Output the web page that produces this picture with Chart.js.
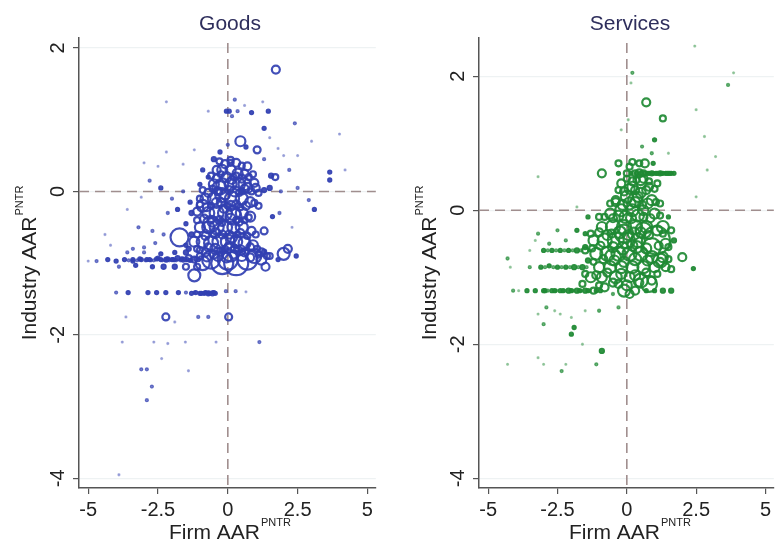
<!DOCTYPE html>
<html>
<head>
<meta charset="utf-8">
<script src="https://cdn.jsdelivr.net/npm/chart.js@4/dist/chart.umd.min.js"></script>
<style>
  html, body { margin: 0; padding: 0; background: #fff; overflow: hidden; width: 775px; height: 548px; }
  canvas { position: absolute; top: 0; }
  #goods { left: 0; }
  #services { left: 400px; }
</style>
</head>
<body>
<canvas id="goods" width="390" height="548"></canvas>
<canvas id="services" width="390" height="548"></canvas>
<script>
// tick values
const xTicks = [-5, -2.5, 0, 2.5, 5];
const yTicks = [-4, -2, 0, 2];

// Goods panel: firm AAR (x), industry AAR (y), marker radius (weight)
const goodsX = [
  1.72, -0.7, -0.05, 0.05, 0.35, 0.85, 1.45, 0.25, -2.2, 1.25, 1.3, 0.15, 0.6,
  0.45, 1.05, -0.28, 0.0, 0.65, 1.8, 2.4, -1.2, 2.2, 3.65, 3.65, 3.1, 2.9, 4.2, 3.0, 4.0, 2.5,
  1.7, 1.55, 1.3, 1.5, 2.0, 1.9, 2.5, 1.85, 2.3, 1.6, 1.5,
  -3.0, -2.5, -2.2, -1.6, -2.8, -2.4, -2.0, -3.1, -3.6, -2.15, -1.8, -3.2, -2.7, -2.3, -4.2, -3.4, -3.0, -2.6, -4.4, -1.5, -1.3, -1.0,
  -5.0, -4.7, -4.3, -4.0, -3.7, -3.4, -3.1, -2.8, -2.5, -2.2, -2.0, -1.8, -1.6, -1.4, -1.2,
  -3.9, -3.3, -2.7, -2.3, -1.9, -1.5, -1.1, -3.6, -3.0, -2.4, -1.9, -1.5,
  -3.55, -3.25, -2.95, -2.65, -2.35, -2.1, -1.9, -1.7, -1.5, -1.3,
  1.2, 1.5, 1.8, 2.0, 2.15, 2.45, 1.35, 1.2,
  -1.73, -1.2, -0.9, -1.1, 1.3, 1.1, 0.95, 0.7, -0.4, 0.1,
  -0.6, -0.2, 0.3, 0.7, 0.95, -0.9, 0.1,
  -0.2, 0.1, 0.35, 0.6,
  -0.5, -0.2, 0.1, 0.4, 0.7, 1.0,
  -0.8, -0.5, -0.2, 0.15, 0.5, 0.8,
  -0.7, -0.4, -0.1, 0.2, 0.5, 0.8,
  -1.0, -0.7, -0.4, -0.1, 0.2, 0.5, 0.85,
  -1.2, -0.9, -0.6, -0.3, 0.0, 0.3, 0.6, 0.9,
  -0.3, 0.0, 0.3, -0.5, 0.2, -0.1, 0.5, -0.6, 0.05, -0.25, 0.35, -0.8, 0.6,
  -1.3, -1.5, -1.1, -1.35, -1.6, -1.0, -0.9, -0.5, -0.7,
  -4.0, -3.57, -2.86, -2.55, -2.22, -1.77, -1.5, -1.2, -1.0, -0.85, -0.7, -0.55, -0.07, 0.28, 0.65,
  -3.65, -2.22, -1.06, -0.7, 0.03, -1.9,
  -3.78, -2.65, -2.15, -1.52, -0.42, 1.13, -2.37, -3.1, -2.9, -1.41, -2.72, -2.9, -3.9,
  // dense core
  -0.3, -0.1, 0.1, 0.3, 0.5,
  -0.6, -0.4, -0.25, -0.05, 0.15, 0.3, 0.5, 0.75, 0.9,
  -0.9, -0.7, -0.55, -0.35, -0.1, 0.05, 0.25, 0.4, 0.6, 0.85, 1.1, 1.3,
  -1.0, -0.75, -0.6, -0.4, -0.15, 0.1, 0.3, 0.45, 0.65, 0.95,
  -1.1, -0.85, -0.55, -0.3, -0.2, 0.1, 0.4, 0.6, 0.75,
  -1.1, -0.8, -0.45, -0.2, 0.15, 0.45, 0.7, 1.0,
  -1.4, -1.0, -0.7, -0.45, -0.25, 0.05, 0.25, 0.45, 0.8, 1.05, 1.3,
  -1.0, -0.75, -0.5, -0.35, -0.05, 0.2, 0.5, 0.8, 1.1, 1.4,
  // streak fill and large markers
  -3.4, -3.15, -2.9, -2.75, -2.55, -2.4, -2.25, -2.15, -1.95, -1.85, -1.65, -1.45, -1.35, -1.15, -1.05,
  -1.3, -1.15, -0.95, -0.8, -0.65, -0.5, -0.45,
  0.2, -0.3, 0.5, -0.6, 0.6, 0.0
];
const goodsY = [
  1.70, 1.12, 1.12, 1.12, 1.12, 1.10, 1.12, 1.28, 1.25, 1.25, 0.88, 1.05, 1.20,
  0.70, 0.58, 0.55, 0.65, 0.62, 0.60, 0.95, 0.58, 0.30, 0.27, 0.16, -0.25, -0.12, 0.30, 0.70, 0.80, 0.50,
  0.20, 0.22, 0.45, 0.75, 0.50, 0.00, 0.05, -0.30, -0.50, -0.35, 0.05,
  0.40, 0.35, 0.55, 0.38, 0.15, 0.05, -0.10, -0.08, -0.25, -0.30, -0.25, -0.50, -0.55, -0.60, -0.75, -0.80, -0.78, -0.72, -0.60, -0.45, -0.30, -0.10,
  -0.97, -0.97, -0.95, -0.97, -0.95, -0.97, -0.95, -0.95, -0.93, -0.95, -0.95, -0.93, -0.95, -0.93, -0.95,
  -1.05, -1.03, -1.05, -1.05, -1.05, -1.05, -1.05, -0.85, -0.85, -0.87, -0.85, -0.85,
  -0.96, -0.96, -0.96, -0.96, -0.96, -0.96, -0.96, -0.96, -0.96, -0.96,
  -0.95, -0.90, -0.95, -0.87, -0.80, -0.90, -1.05, -0.85,
  -0.64, -1.17, -0.20, -0.28, -0.55, -0.20, 0.12, 0.35, 0.30, 0.40,
  -0.95, -1.00, -1.00, -0.95, -0.90, -1.00, -0.85,
  0.30, 0.30, 0.25, 0.25,
  0.10, 0.10, 0.10, 0.10, 0.05, 0.05,
  -0.10, -0.10, -0.05, -0.10, -0.10, -0.15,
  -0.30, -0.30, -0.30, -0.30, -0.30, -0.35,
  -0.50, -0.50, -0.50, -0.50, -0.50, -0.50, -0.55,
  -0.70, -0.70, -0.72, -0.70, -0.70, -0.70, -0.72, -0.75,
  0.00, -0.20, -0.40, -0.60, 0.20, -0.80, 0.00, -0.40, -0.60, -0.15, -0.60, -0.85, -0.85,
  -0.60, -0.75, -0.80, -0.15, 0.00, 0.10, 0.30, 0.45, 0.20,
  -1.41, -1.41, -1.41, -1.41, -1.41, -1.41, -1.41, -1.41, -1.42, -1.42, -1.42, -1.42, -1.39, -1.39, -1.40,
  -1.75, -1.75, -1.75, -1.75, -1.75, -1.82,
  -2.10, -2.10, -2.12, -2.10, -2.10, -2.10, -2.33, -2.48, -2.48, -2.50, -2.72, -2.91, -3.95,
  // dense core
  0.42, 0.38, 0.44, 0.40, 0.36,
  0.22, 0.18, 0.24, 0.20, 0.16, 0.22, 0.18, 0.20, 0.24,
  0.02, -0.02, 0.04, 0.00, -0.04, 0.02, 0.00, -0.02, 0.04, 0.00, -0.02, 0.02,
  -0.18, -0.22, -0.20, -0.16, -0.24, -0.20, -0.18, -0.22, -0.20, -0.16,
  -0.40, -0.38, -0.42, -0.40, -0.44, -0.38, -0.42, -0.40, -0.36,
  -0.60, -0.62, -0.58, -0.60, -0.64, -0.58, -0.62, -0.60,
  -0.80, -0.82, -0.78, -0.80, -0.84, -0.78, -0.80, -0.82, -0.78, -0.80, -0.84,
  -0.90, -0.92, -0.88, -0.90, -0.92, -0.88, -0.90, -0.92, -0.88, -0.90,
  // streak fill and large markers
  -0.95, -0.94, -0.95, -0.96, -0.94, -0.95, -0.96, -0.94, -0.95, -0.96, -0.94, -0.95, -0.96, -0.94, -0.95,
  -1.42, -1.41, -1.42, -1.41, -1.42, -1.41, -1.42,
  -0.35, 0.05, -0.70, -0.45, 0.10, -0.95
];
const goodsR = [
  4, 1, 2, 2, 1.5, 2, 2, 1.5, 1, 1, 2, 1.5, 1,
  5, 3.5, 2, 1.5, 2, 1, 1.5, 1, 1.5, 2, 2, 2, 1.5, 1, 1, 1, 1,
  3, 2.5, 1.5, 1, 1, 1.5, 1.5, 1.5, 1, 2, 2.5,
  1, 1, 1, 1, 1.5, 2, 1.5, 1, 1, 1.5, 2, 1.5, 1.5, 1.5, 1, 1.5, 1.5, 1.5, 1, 2, 2.5, 3,
  1, 1.5, 2, 2, 2, 2, 2, 2, 2, 2.5, 2, 2.5, 2.5, 3, 3,
  1.5, 2, 2, 2.5, 2.5, 3, 3, 1.5, 1.5, 2, 2, 2.5,
  1.5, 1.5, 1.5, 1.5, 1.5, 1.5, 1.5, 1.5, 1.5, 1.5,
  5, 3, 2, 6, 4, 2, 4, 4,
  9, 6, 6, 4, 3.5, 3, 4, 4, 4, 3,
  9, 11, 12, 10, 7, 7, 9,
  5, 5, 5, 4,
  5, 6, 6, 6, 5, 4,
  5, 6, 7, 7, 6, 5,
  6, 7, 7, 7, 6, 5,
  5, 6, 7, 7, 6, 6, 4,
  5, 6, 7, 7, 7, 6, 6, 5,
  3, 3, 3, 3, 3, 3, 3, 3, 4, 4, 3, 4, 4,
  2.5, 2, 3, 2, 1.5, 2, 2, 2.5, 2,
  1.5, 2, 2, 2, 2, 2, 1.5, 1.5, 2, 2, 2.5, 2.5, 1.5, 1.5, 1,
  1, 3.5, 1.5, 1.5, 3.5, 1,
  1, 1, 1, 1, 1, 1.5, 1, 1.5, 1.5, 1, 1.5, 1.5, 1,
  // dense core
  3, 4, 3, 4, 3,
  3, 4, 3, 5, 4, 3, 4, 3, 3,
  3, 4, 3, 4, 5, 4, 5, 3, 4, 3, 3, 2.5,
  3, 4, 3, 5, 4, 5, 4, 3, 4, 3,
  3, 4, 5, 4, 3, 5, 4, 3, 3,
  3, 4, 5, 4, 5, 4, 3, 3,
  2.5, 3, 4, 5, 4, 5, 4, 5, 4, 3, 2.5,
  3, 4, 4, 5, 5, 4, 5, 4, 3, 3,
  // streak fill and large markers
  2, 2, 2, 1.5, 2, 2, 1.5, 2, 2, 1.5, 2, 2, 2, 2, 2,
  2, 2, 2, 2, 2, 2, 2,
  8, 7, 8, 8, 6, 10
];

// Services panel
const servX = [
  0.2, 0.15, 3.85, 3.65, 2.45, 0.7, 1.3, 2.5, 2.8, 0.05, 1.0, 0.55, 1.5, 0.9, -3.2, -0.2, 2.9, 3.2, 2.5,
  0.0, 0.3, 0.6, 0.9, 1.2, 1.45, 1.7, -0.3, 0.45, 0.1, 0.15, 0.75, 1.05, 1.3, 1.55,
  -0.9, -0.3, 0.2, 0.65, 0.45, 0.95, 0.5, 0.2, -0.2, 0.8, 1.1, 0.0, 0.4, 0.9, -0.4, 1.2,
  -0.6, -0.2, 0.2, 0.6, 1.0, -1.0,
  -0.9, -0.5, -0.1, 0.3, 0.7, 1.1,
  -1.2, -0.8, -0.4, 0.0, 0.4, 1.05, 1.4,
  -1.1, -0.7, -0.3, 0.1, 0.5, 0.9, 1.3,
  -1.0, -0.6, -0.2, 0.2, 0.6, 1.0, 1.4, 1.6,
  -1.3, -0.9, -0.4, 0.1, 0.5, 0.9,
  -0.8, -0.1, 0.1, 0.3,
  -4.1, -3.6, -3.0, -2.7, -2.4, -2.1, -1.8, -1.5, -1.2, 0.7, 1.0, 1.3, 1.6,
  -2.85, -2.55, -2.25, -1.95, -1.65, -1.35,
  -4.2, -3.5, -3.1, -2.8, -2.5, -2.2, -1.9, -1.6, 2.0, 2.4,
  -4.3, -3.5, -3.0, -2.7, -2.4, -2.1, -1.8, -1.5,
  -3.2, -2.5, -1.8, -1.5, -2.2, -1.4, -1.8, -2.8, -3.3,
  1.6, 1.5, 1.7,
  -3.2, -2.9, -2.6, -3.0, -2.4, -2.0, -0.3, -0.5, -1.9, -2.0, -0.9, -2.35, -1.1, -3.2, -4.3, -3.0, -2.2, -1.6, -1.5, -1.0, -3.9,
  // dense core
  0.0, 0.2, 0.35, 0.6, 0.8,
  -0.3, -0.1, 0.1, 0.3, 0.5, 0.7, 1.0,
  -0.6, -0.4, -0.15, 0.1, 0.3, 0.55, 0.75, 1.05,
  -0.8, -0.5, -0.3, -0.05, 0.15, 0.4, 0.6, 0.85, 1.2,
  -1.3, -1.0, -0.7, -0.55, -0.25, 0.05, 0.25, 0.5, 0.8, 1.3,
  -1.5, -1.25, -0.95, -0.5, -0.15, 0.2, 0.35, 0.7, 1.15, 1.5,
  -1.4, -1.2, -0.85, -0.45, -0.1, 0.3, 0.75, 1.2, 1.5,
  -1.5, -1.1, -0.7, -0.2, 0.3, 0.7, 1.1,
  -1.6, -1.0, -0.5, -0.3, 0.0, 0.45,
  // streak fill and large markers
  0.35, 0.5, 0.65, 0.8, 0.95, 1.1, 1.25, 1.4, 1.5, 1.6,
  -3.3, -2.95, -2.6, -2.3, -2.0, -1.7, -1.4, -1.1, -0.95,
  -2.85, -2.55, -2.25, -1.95, -1.65, -1.35,
  -2.95, -2.65, -2.35, -2.05, -1.75, -1.45,
  0.9, 1.2, 0.6, 1.3, 0.8, -0.5, -0.1, 0.3
];
const servY = [
  2.05, 1.90, 2.05, 1.87, 2.45, 1.61, 1.37, 1.50, 1.10, 1.35, 1.05, 0.95, 0.85, 0.85, 0.50, 1.20, 0.60, 0.80, 0.20,
  0.55, 0.55, 0.55, 0.55, 0.55, 0.55, 0.55, 0.55, 0.55, 0.65, 0.55, 0.55, 0.55, 0.55, 0.55,
  0.55, 0.70, 0.72, 0.70, 0.70, 0.70, 0.45, 0.35, 0.40, 0.35, 0.40, 0.20, 0.20, 0.15, 0.15, 0.10,
  -0.05, 0.00, 0.00, 0.00, -0.05, -0.10,
  -0.25, -0.25, -0.25, -0.25, -0.25, -0.30,
  -0.45, -0.45, -0.45, -0.45, -0.45, -0.45, -0.50,
  -0.65, -0.65, -0.65, -0.65, -0.65, -0.70, -0.70,
  -0.85, -0.85, -0.85, -0.85, -0.85, -0.85, -0.85, -0.88,
  -1.00, -1.00, -1.00, -1.00, -1.05, -1.05,
  -1.15, -1.20, -1.25, -1.20,
  -1.20, -1.20, -1.20, -1.20, -1.20, -1.20, -1.20, -1.20, -1.20, -1.20, -1.20, -1.20, -1.20,
  -1.20, -1.20, -1.20, -1.20, -1.20, -1.20,
  -0.85, -0.85, -0.85, -0.83, -0.85, -0.85, -0.85, -0.85, -0.70, -0.87,
  -0.72, -0.60, -0.60, -0.60, -0.60, -0.60, -0.60, -0.60,
  -0.35, -0.30, -0.30, -0.35, -0.45, -0.10, 0.05, -0.50, -0.45,
  -0.30, -0.10, -0.45,
  -1.55, -1.45, -1.50, -1.70, -1.55, -1.60, -1.45, -1.25, -1.75, -1.85, -2.10, -2.40, -2.30, -2.20, -2.30, -2.30, -2.30, -2.00, -1.50, -1.50, -1.20,
  // dense core
  0.47, 0.43, 0.45, 0.47, 0.43,
  0.30, 0.28, 0.32, 0.30, 0.26, 0.30, 0.32,
  0.10, 0.12, 0.08, 0.10, 0.12, 0.08, 0.10, 0.12,
  -0.10, -0.12, -0.08, -0.10, -0.12, -0.08, -0.10, -0.12, -0.08,
  -0.35, -0.33, -0.37, -0.35, -0.33, -0.37, -0.35, -0.33, -0.37, -0.35,
  -0.55, -0.57, -0.53, -0.55, -0.57, -0.53, -0.55, -0.57, -0.53, -0.55,
  -0.75, -0.77, -0.73, -0.75, -0.77, -0.73, -0.75, -0.77, -0.73,
  -0.95, -0.97, -0.93, -0.95, -0.97, -0.93, -0.95,
  -1.10, -1.12, -1.08, -1.10, -1.12, -1.08,
  // streak fill and large markers
  0.55, 0.55, 0.55, 0.55, 0.55, 0.55, 0.55, 0.55, 0.55, 0.55,
  -1.20, -1.20, -1.20, -1.20, -1.20, -1.20, -1.20, -1.20, -1.20,
  -0.60, -0.60, -0.60, -0.60, -0.60, -0.60,
  -0.85, -0.85, -0.85, -0.85, -0.85, -0.85,
  -0.55, -0.75, -0.30, -0.25, -1.10, -0.70, -0.35, 0.15
];
const servR = [
  1.5, 1, 1, 1.5, 1, 4, 3, 1, 1, 1, 2, 1.5, 1, 1.5, 1, 1, 1, 1, 1,
  3, 3, 3, 2.5, 2.5, 2, 2, 2, 4, 3, 2, 2, 2, 2, 2,
  4, 3, 3, 4, 3, 2, 5, 5, 4, 4, 3, 6, 5, 5, 4, 3,
  5, 6, 6, 5, 5, 3,
  5, 7, 7, 7, 6, 5,
  5, 7, 8, 8, 7, 14, 5,
  6, 7, 7, 7, 7, 6, 5,
  5, 6, 6, 6, 6, 5, 4, 3,
  5, 5, 6, 5, 7, 4,
  4, 6, 4, 4,
  1.5, 2, 2, 2, 2, 2.5, 2.5, 2.5, 3, 2, 2, 2.5, 2.5,
  1.5, 1.5, 1.5, 1.5, 1.5, 1.5,
  1, 1.5, 2, 2, 2, 2, 2.5, 2.5, 4, 2,
  1.5, 1, 2, 2, 2, 2, 2.5, 3,
  1.5, 1.5, 2, 2, 1.5, 2, 1, 1.5, 1,
  3, 2, 2.5,
  1, 1.5, 1, 1.5, 1, 1, 1.5, 1.5, 2, 2, 2.5, 1.5, 1.5, 1, 1, 1, 1, 1, 1, 1.5, 1,
  // dense core
  3, 4, 3, 4, 3,
  3, 4, 5, 4, 5, 4, 3,
  3, 4, 5, 6, 5, 4, 5, 3,
  3, 4, 5, 6, 5, 6, 4, 4, 3,
  3, 4, 5, 4, 6, 5, 6, 5, 4, 3,
  2.5, 3, 4, 5, 6, 5, 6, 5, 4, 3,
  2.5, 3, 4, 5, 5, 6, 5, 4, 3,
  3, 4, 4, 5, 5, 4, 3,
  3, 3, 4, 4, 5, 4,
  // streak fill and large markers
  2, 2, 2, 2, 2, 2, 2, 2, 2, 2,
  2, 2, 2, 2, 2, 2, 2, 2, 2,
  1.5, 1.5, 1.5, 1.5, 1.5, 1.5,
  1.5, 1.5, 1.5, 1.5, 1.5, 1.5,
  9, 7, 8, 6, 8, 8, 9, 7
];

const FONT = "'Liberation Sans', Arial, sans-serif";

// small helper: main text + superscript, centred on (cx, cy)
function drawSup(ctx, main, sup, cx, cy, angle) {
  ctx.save();
  ctx.translate(cx, cy);
  ctx.rotate(angle);
  ctx.fillStyle = "#222";
  ctx.textBaseline = "middle";
  ctx.textAlign = "left";
  ctx.font = "21px " + FONT;
  const wm = ctx.measureText(main).width;
  ctx.font = "11px " + FONT;
  const ws = ctx.measureText(sup).width;
  const x0 = -(wm + ws + 1) / 2;
  ctx.font = "21px " + FONT;
  ctx.fillText(main, x0, 0);
  ctx.font = "11px " + FONT;
  ctx.fillText(sup, x0 + wm + 1, -10);
  ctx.restore();
}

const refLines = {
  id: "refLines",
  beforeDatasetsDraw(chart) {
    const { ctx, chartArea: a, scales } = chart;
    const x0 = scales.x.getPixelForValue(0);
    const y0 = scales.y.getPixelForValue(0);
    ctx.save();
    ctx.strokeStyle = "#a08e8e";
    ctx.lineWidth = 1.6;
    ctx.setLineDash([10, 6]);
    ctx.beginPath();
    ctx.moveTo(x0, a.top + 5);
    ctx.lineTo(x0, a.bottom);
    ctx.moveTo(a.left, y0);
    ctx.lineTo(a.right, y0);
    ctx.stroke();
    ctx.restore();
  }
};

const panelText = {
  id: "panelText",
  afterDraw(chart, args, opts) {
    const ctx = chart.ctx;
    ctx.save();
    ctx.font = "21px " + FONT;
    ctx.fillStyle = "#2e2e5c";
    ctx.textAlign = "center";
    ctx.textBaseline = "middle";
    ctx.fillText(opts.title, 230, 24);
    ctx.restore();
    drawSup(ctx, "Industry AAR", "PNTR", 30, 263, -Math.PI / 2);
    drawSup(ctx, "Firm AAR", "PNTR", 230, 533, 0);
  }
};

function makePanel(id, title, xs, ys, rs, rgb, yMin, yMax) {
  const pts = xs.map((x, i) => ({ x: x, y: ys[i], r: rs[i] }));
  const alphaFor = (r) => (r <= 1 ? 0.35 : (r <= 1.5 ? 0.65 : 0.92));
  const ctx = document.getElementById(id).getContext("2d");
  return new Chart(ctx, {
    type: "bubble",
    data: {
      datasets: [{
        data: pts,
        // tiny markers read as solid dots, larger ones stay hollow
        backgroundColor: (c) => {
          const r = c.raw ? c.raw.r : 3;
          return r <= 2.5 ? "rgba(" + rgb + "," + alphaFor(r) + ")" : "rgba(0,0,0,0)";
        },
        borderColor: (c) => "rgba(" + rgb + "," + alphaFor(c.raw ? c.raw.r : 3) + ")",
        borderWidth: (c) => (c.raw && c.raw.r >= 3 ? 2.2 : 1.3)
      }]
    },
    options: {
      responsive: false,
      animation: false,
      events: [],
      layout: { padding: { top: 38, left: 0, right: 10, bottom: 0 } },
      plugins: {
        legend: { display: false },
        tooltip: { enabled: false },
        panelText: { title: title }
      },
      scales: {
        x: {
          type: "linear",
          min: -5.33, max: 5.3,
          afterBuildTicks: (s) => { s.ticks = xTicks.map(v => ({ value: v })); },
          afterFit: (s) => { s.height = 60; },
          border: { color: "#555", width: 1.5 },
          grid: { drawOnChartArea: false, tickColor: "#555", tickLength: 6, lineWidth: 1.2 },
          ticks: { color: "#222", font: { size: 20, family: FONT }, padding: 4, maxRotation: 0 }
        },
        y: {
          type: "linear",
          min: yMin, max: yMax,
          afterBuildTicks: (s) => { s.ticks = yTicks.map(v => ({ value: v })); },
          afterFit: (s) => { s.width = 79; },
          border: { color: "#555", width: 1.5 },
          grid: { color: "#eef2f3", tickColor: "#555", tickLength: 6, lineWidth: 1.2 },
          ticks: { color: "#222", font: { size: 20, family: FONT }, padding: 6,
                   minRotation: 90, maxRotation: 90, crossAlign: "center" }
        }
      }
    },
    plugins: [refLines, panelText]
  });
}

makePanel("goods", "Goods", goodsX, goodsY, goodsR, "50,64,178", -4.135, 2.14);
makePanel("services", "Services", servX, servY, servR, "31,138,52", -4.145, 2.57);
</script>
</body>
</html>
